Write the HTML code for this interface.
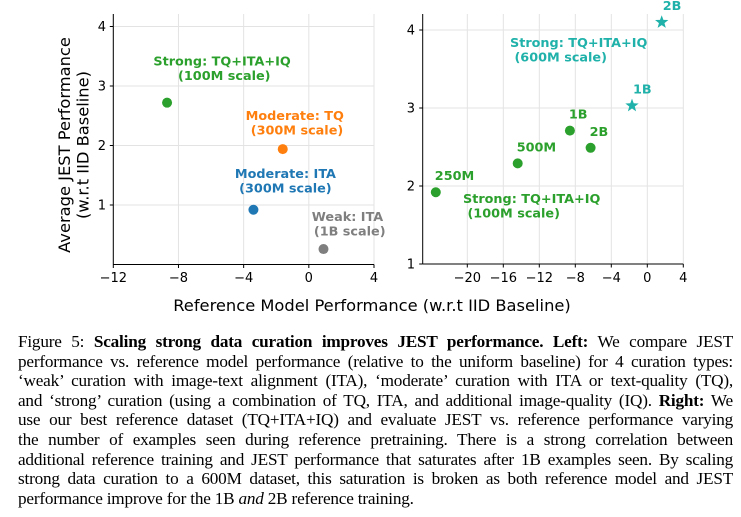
<!DOCTYPE html>
<html><head><meta charset="utf-8"><style>
body{margin:0;background:#fff;width:741px;height:517px;overflow:hidden;position:relative;font-family:"DejaVu Sans","Liberation Sans",sans-serif}
svg{position:absolute;left:0;top:0}
#cap{position:absolute;left:18px;top:332px;width:715px;font-family:"Liberation Serif",serif;font-size:17.2px;line-height:19.6px;color:#000}
#cap div{text-align:justify;text-align-last:justify;white-space:nowrap;letter-spacing:-0.2px}
#cap div.last{text-align-last:left}
</style></head><body>
<svg id="chart" width="741" height="330"></svg>
<div id="cap">
<div>Figure 5: <b>Scaling strong data curation improves JEST performance. Left:</b> We compare JEST</div>
<div>performance vs. reference model performance (relative to the uniform baseline) for 4 curation types:</div>
<div>‘weak’ curation with image-text alignment (ITA), ‘moderate’ curation with ITA or text-quality (TQ),</div>
<div>and ‘strong’ curation (using a combination of TQ, ITA, and additional image-quality (IQ). <b>Right:</b> We</div>
<div>use our best reference dataset (TQ+ITA+IQ) and evaluate JEST vs. reference performance varying</div>
<div>the number of examples seen during reference pretraining. There is a strong correlation between</div>
<div>additional reference training and JEST performance that saturates after 1B examples seen. By scaling</div>
<div>strong data curation to a 600M dataset, this saturation is broken as both reference model and JEST</div>
<div class="last">performance improve for the 1B <i>and</i> 2B reference training.</div>
</div>
<script>
// Left chart data
const leftNames = ["strong","moderate-tq","moderate-ita","weak"];
const leftX = [-8.7, -1.6, -3.4, 0.9];
const leftY = [2.72, 1.94, 0.92, 0.26];
const leftColors = ["#2ca02c","#ff7f0e","#1f77b4","#7f7f7f"];
const leftLabels = [["Strong: TQ+ITA+IQ"," (100M scale)"],["Moderate: TQ"," (300M scale)"],["Moderate: ITA","(300M scale)"],["Weak: ITA"," (1B scale)"]];
const leftXTicks = [-12,-8,-4,0,4];
const leftYTicks = [1,2,3,4];
// Right chart data
const rightLabels = ["250M","500M","1B","2B"];
const rightX = [-23.5, -14.4, -8.6, -6.3];
const rightY = [1.92, 2.29, 2.71, 2.49];
const starLabels = ["1B","2B"];
const starX = [-1.7, 1.6];
const starY = [3.03, 4.1];
const rightXTicks = [-20,-16,-12,-8,-4,0,4];
const rightYTicks = [1,2,3,4];

const NS="http://www.w3.org/2000/svg";
const svg=document.getElementById('chart');
function mk(tag,attrs,parent){const e=document.createElementNS(NS,tag);for(const k in attrs)e.setAttribute(k,attrs[k]);(parent||svg).appendChild(e);return e;}
function txt(s,attrs,parent){const e=mk('text',attrs,parent);e.textContent=s;return e;}
const TF=13, LF=12.8, AF=16.3;

// Left axes
const lx=v=>113.3+(v+12)*(374-113.3)/16;
const ly=v=>264.5-v*59.5;
const gL=mk('g',{});


leftXTicks.forEach(t=>{mk('line',{x1:lx(t),x2:lx(t),y1:14,y2:264.5,stroke:'#e3e3e3','stroke-width':1},gL);});
leftYTicks.forEach(t=>{mk('line',{x1:113.3,x2:374,y1:ly(t),y2:ly(t),stroke:'#e3e3e3','stroke-width':1},gL);});
mk('line',{x1:113.3,x2:113.3,y1:14,y2:264.5,stroke:'#000','stroke-width':1},gL);
mk('line',{x1:113.3,x2:374,y1:264.5,y2:264.5,stroke:'#000','stroke-width':1},gL);
leftXTicks.forEach(t=>{mk('line',{x1:lx(t),x2:lx(t),y1:264.5,y2:268,stroke:'#000'},gL);
 const e=txt(t<0?'\u2212'+(-t):String(t),{x:lx(t),y:282,'text-anchor':'middle','font-size':TF,fill:'#000'},gL);
 });
leftYTicks.forEach(t=>{mk('line',{x1:109.8,x2:113.3,y1:ly(t),y2:ly(t),stroke:'#000'},gL);
 const e=txt(String(t),{x:106,y:ly(t)+4.5,'text-anchor':'end','font-size':TF,fill:'#000'},gL);
 });
const lblOff=[[55,-37],[12,-29],[32,-32],[24,-28]];
leftX.forEach((v,i)=>{
 const c=mk('circle',{cx:lx(v),cy:ly(leftY[i]),r:5,fill:leftColors[i]},gL);
 
 const t=mk('text',{x:lx(v)+lblOff[i][0],y:ly(leftY[i])+lblOff[i][1],'text-anchor':'middle','font-size':LF,'font-weight':'bold',fill:leftColors[i]},gL);
 
 leftLabels[i].forEach((s,j)=>{const sp=mk('tspan',{x:lx(v)+lblOff[i][0],dy:j?14.5:0,'xml:space':'preserve'},t);sp.textContent=s;});
});
const yt=txt('',{transform:'translate(70,145) rotate(-90)','text-anchor':'middle','font-size':AF,fill:'#000'});

['Average JEST Performance','(w.r.t IID Baseline)'].forEach((s,j)=>{const sp=mk('tspan',{x:0,dy:j?18.5:0},yt);sp.textContent=s;});

// Right axes
const rx=v=>647.3+v*9;
const ry=v=>264-(v-1)*78;
const gR=mk('g',{});


rightXTicks.forEach(t=>{mk('line',{x1:rx(t),x2:rx(t),y1:14,y2:264,stroke:'#e3e3e3'},gR);});
rightYTicks.forEach(t=>{mk('line',{x1:422.7,x2:683.3,y1:ry(t),y2:ry(t),stroke:'#e3e3e3'},gR);});
mk('line',{x1:422.7,x2:422.7,y1:14,y2:264,stroke:'#000'},gR);
mk('line',{x1:422.7,x2:683.3,y1:264,y2:264,stroke:'#000'},gR);
rightXTicks.forEach(t=>{mk('line',{x1:rx(t),x2:rx(t),y1:264,y2:267.5,stroke:'#000'},gR);
 const e=txt(t<0?'\u2212'+(-t):String(t),{x:rx(t),y:282,'text-anchor':'middle','font-size':TF,fill:'#000'},gR);
 });
rightYTicks.forEach(t=>{mk('line',{x1:419.2,x2:422.7,y1:ry(t),y2:ry(t),stroke:'#000'},gR);
 const e=txt(String(t),{x:415,y:ry(t)+4.5,'text-anchor':'end','font-size':TF,fill:'#000'},gR);
 });
const G='#2ca02c',T='#20b2aa';
rightX.forEach((v,i)=>{
 const c=mk('circle',{cx:rx(v),cy:ry(rightY[i]),r:5,fill:G},gR);
 
 const t=txt(rightLabels[i],{x:rx(v)-1,y:ry(rightY[i])-12,'font-size':LF,'font-weight':'bold',fill:G},gR);
 
});
function starPath(cx,cy,R,r){let d='';for(let k=0;k<10;k++){const a=-Math.PI/2+k*Math.PI/5;const rr=k%2?r:R;d+=(k?'L':'M')+(cx+rr*Math.cos(a)).toFixed(2)+','+(cy+rr*Math.sin(a)).toFixed(2);}return d+'Z';}
starX.forEach((v,i)=>{
 const s=mk('path',{d:starPath(rx(v),ry(starY[i]),7,2.9),fill:T},gR);
 
 const t=txt(starLabels[i],{x:rx(v)+1,y:ry(starY[i])-12,'font-size':LF,'font-weight':'bold',fill:T},gR);
 
});
const a1=txt('',{x:510,y:47,'font-size':LF,'font-weight':'bold',fill:T},gR);

['Strong: TQ+ITA+IQ',' (600M scale)'].forEach((s,j)=>{const sp=mk('tspan',{x:510,dy:j?14.5:0,'xml:space':'preserve'},a1);sp.textContent=s;});
const a2=txt('',{x:463,y:203,'font-size':LF,'font-weight':'bold',fill:G},gR);

['Strong: TQ+ITA+IQ',' (100M scale)'].forEach((s,j)=>{const sp=mk('tspan',{x:463,dy:j?14.5:0,'xml:space':'preserve'},a2);sp.textContent=s;});

const xt=txt('Reference Model Performance (w.r.t IID Baseline)',{x:372,y:311,'text-anchor':'middle','font-size':AF,fill:'#000'});

</script>
</body></html>
